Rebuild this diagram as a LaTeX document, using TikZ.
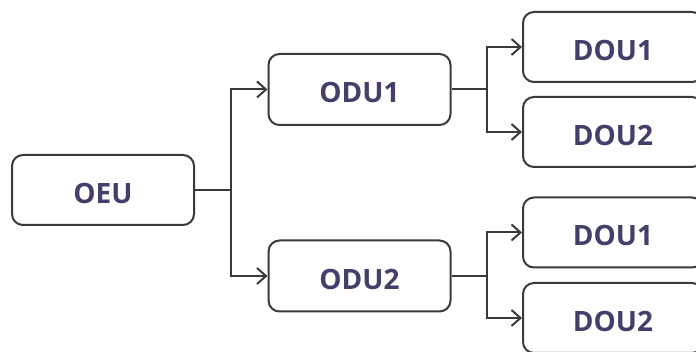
\documentclass[tikz,border=0pt]{standalone}
\usepackage{fontspec}
\setmainfont{Open Sans}
\usetikzlibrary{arrows.meta}
\definecolor{txt}{HTML}{40406A}
\definecolor{ln}{HTML}{3A3A3A}
\tikzset{
  box/.style={draw=ln, line width=2pt, rounded corners=11pt, fill=white,
    minimum width=#1, inner sep=0pt, text height=27pt, text depth=0pt,
    font=\fontsize{28}{30}\selectfont\bfseries, text=txt},
  box/.default=182pt,
  link/.style={draw=ln, line width=2pt},
  arr/.style={link, -{Straight Barb[length=9pt, width=16pt, line width=2pt]}}
}
\begin{document}
\begin{tikzpicture}[x=1pt,y=-1pt]
\useasboundingbox (0,0) rectangle (696,352);
\clip (0,0) rectangle (696,352);
\node[box, minimum height=70pt] (oeu) at (103,190) {OEU};
\node[box, minimum height=71pt] (odu1) at (359.5,89.5) {ODU1};
\node[box, minimum height=71pt] (odu2) at (359.5,276) {ODU2};
\node[box=180pt, minimum height=70pt] (d11) at (613,47) {DOU1};
\node[box=180pt, minimum height=70pt] (d12) at (613,132) {DOU2};
\node[box=180pt, minimum height=70pt] (d21) at (613,232.5) {DOU1};
\node[box=180pt, minimum height=70pt] (d22) at (613,318) {DOU2};
\coordinate (j0) at (231,190);
\coordinate (j1) at (487,89.5);
\coordinate (j2) at (487,276);
\draw[link] (oeu.east) -- (j0);
\draw[arr] (j0) |- (odu1.west);
\draw[arr] (j0) |- (odu2.west);
\draw[link] (odu1.east) -- (j1);
\draw[arr] (j1) |- (d11.west);
\draw[arr] (j1) |- (d12.west);
\draw[link] (odu2.east) -- (j2);
\draw[arr] (j2) |- (d21.west);
\draw[arr] (j2) |- (d22.west);
\end{tikzpicture}
\end{document}
